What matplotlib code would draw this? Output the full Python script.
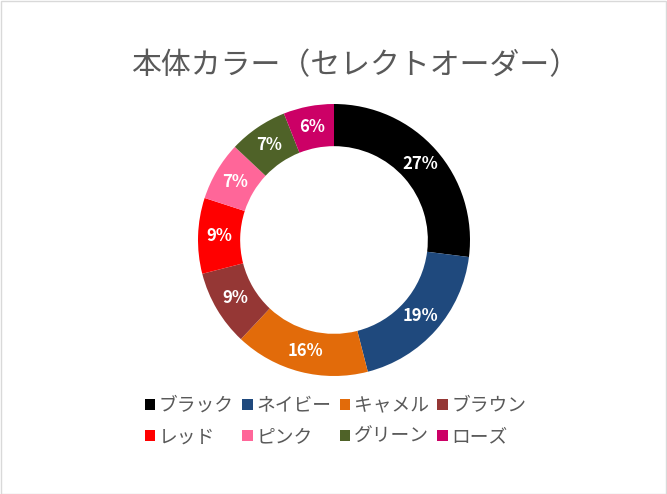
import matplotlib
matplotlib.use("Agg")
import matplotlib.pyplot as plt
from matplotlib.patches import Rectangle, Patch

plt.rcParams['font.family'] = ['Noto Sans CJK JP', 'DejaVu Sans']

# data
labels = ['ブラック', 'ネイビー', 'キャメル', 'ブラウン', 'レッド', 'ピンク', 'グリーン', 'ローズ']
shares = [27, 19, 16, 9, 9, 7, 7, 6]
colors = ['#000000', '#1F497D', '#E26B0A', '#953735', '#FF0000', '#FF6699', '#4F6228', '#CC0066']
title = '本体カラー（セレクトオーダー）'

W, H = 667, 494
fig = plt.figure(figsize=(W / 100, H / 100), dpi=100)
fig.patch.set_facecolor('white')
fig.patches.append(Rectangle((0.5 / W, 0.5 / H), 1 - 1.5 / W, 1 - 1.5 / H, transform=fig.transFigure,
                             fill=False, edgecolor='#D9D9D9', linewidth=1))

# pie axes positioned by pixel center / radius
cx, cy, r = 334, 240, 136
ax = fig.add_axes([(cx - r) / W, 1 - (cy + r) / H, 2 * r / W, 2 * r / H])
wedges, texts, autotexts = ax.pie(shares, colors=colors, startangle=90, counterclock=False,
                                  radius=1, wedgeprops=dict(width=0.31, edgecolor='none'),
                                  autopct='%d%%', pctdistance=0.845,
                                  textprops=dict(color='white', fontsize=12, fontweight='bold'))
ax.set_xlim(-1, 1)
ax.set_ylim(-1, 1)
ax.set_aspect('equal')
ax.axis('off')

fig.text(355 / W, 1 - 66 / H, title, ha='center', va='center',
         fontsize=21.5, color='#595959')

# legend rows filled left-to-right
order = [0, 4, 1, 5, 2, 6, 3, 7]
handles = [Patch(facecolor=colors[i], label=labels[i]) for i in order]
fig.legend(handles=handles, ncol=4, loc='center', bbox_to_anchor=(0.503, 1 - 421 / H),
           frameon=False, fontsize=13.5, labelcolor='#595959', handlelength=0.55, handleheight=0.55,
           handletextpad=0.2, columnspacing=0.45, labelspacing=0.55)

fig.savefig('out.png', dpi=100)
